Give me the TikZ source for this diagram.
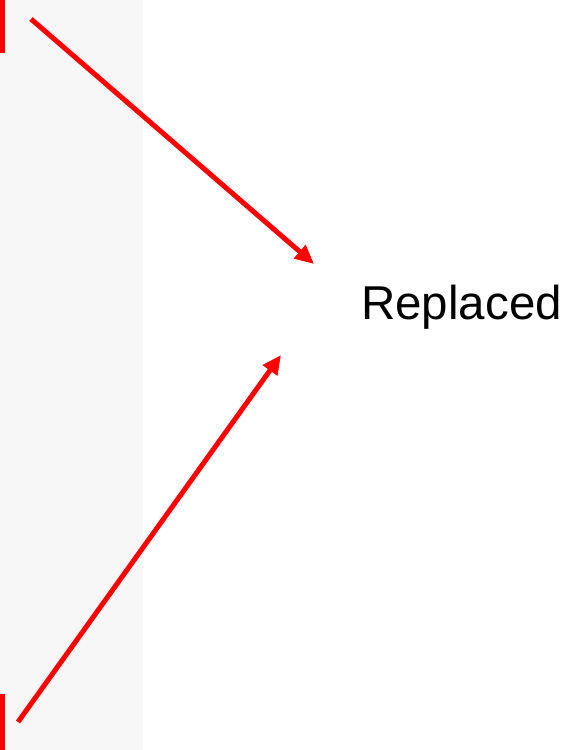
\documentclass[tikz,border=0pt]{standalone}
\usepackage{fontspec}
\setmainfont{Liberation Sans}
\usetikzlibrary{arrows.meta}
\definecolor{panelgray}{HTML}{F7F7F7}
\definecolor{pured}{HTML}{FF0000}
\tikzset{
  redarrow/.style={draw=pured, line width=5pt, -{Triangle[length=19pt,width=17pt]}},
  redbar/.style={fill=pured, draw=none},
  label/.style={font=\fontsize{47.5}{56}\selectfont, inner sep=0pt}
}
\begin{document}
\begin{tikzpicture}[x=1pt,y=-1pt]
\useasboundingbox (0,0) rectangle (576,750);
\fill[panelgray] (0,0) rectangle (143,750);
\fill[redbar] (0,0) rectangle (5,53);
\fill[redbar] (0,694) rectangle (5,750);
\node[label, anchor=base west] (txt) at (361,319) {Replaced};
\coordinate (s1) at (31,19);
\coordinate (t1) at (314,264);
\coordinate (s2) at (18,722);
\coordinate (t2) at (281,355);
\draw[redarrow] (s1) -- (t1);
\draw[redarrow] (s2) -- (t2);
\end{tikzpicture}
\end{document}
